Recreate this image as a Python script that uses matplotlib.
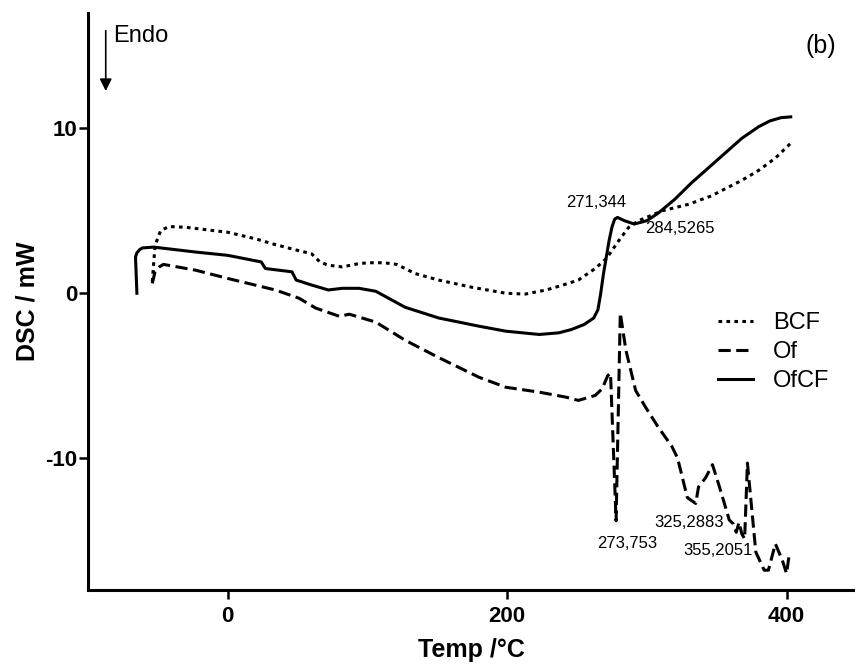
import matplotlib
matplotlib.use("Agg")
import matplotlib.pyplot as plt

plt.rcParams['font.family'] = ['Liberation Sans', 'DejaVu Sans']
plt.rcParams['axes.unicode_minus'] = False

# BCF (dotted)
bcf_x = [-54, -52, -48, -42, -30, 0, 20, 32, 50, 60, 66, 72, 82, 94, 101, 112, 121,
         134, 151, 175, 199, 213, 228, 240, 251, 263, 271, 280, 287, 294, 311, 330,
         346, 368, 380, 392, 403]
bcf_y = [0.7, 2.9, 3.8, 4.05, 4.0, 3.7, 3.3, 3.0, 2.6, 2.4, 1.9, 1.7, 1.6, 1.8, 1.85,
         1.85, 1.75, 1.2, 0.8, 0.36, 0.0, -0.05, 0.2, 0.5, 0.8, 1.5, 2.1, 3.2, 4.0, 4.4,
         5.0, 5.4, 5.9, 6.85, 7.45, 8.2, 9.1]

# Of (dashed)
of_x = [-54, -52, -49, -46, -23, 0, 34, 51, 63, 80, 87, 106, 127, 151, 180, 199, 223,
        242, 251, 263, 268, 272, 274, 278, 281, 285, 292, 299, 308, 318, 322, 329, 335,
        337, 342, 347, 352, 359, 362, 364, 366, 368, 370, 372, 375, 378, 384, 387, 392,
        397, 400, 402]
of_y = [0.6, 1.3, 1.6, 1.75, 1.4, 0.9, 0.2, -0.3, -0.9, -1.4, -1.27, -1.75, -2.85, -3.9,
        -5.1, -5.7, -6.0, -6.3, -6.5, -6.2, -5.8, -5.0, -4.85, -13.8, -1.2, -3.45, -5.9,
        -6.9, -8.1, -9.3, -10.0, -12.4, -12.75, -11.75, -11.2, -10.4, -11.75, -13.75,
        -14.0, -14.5, -13.9, -14.6, -14.9, -10.3, -13.0, -15.7, -16.8, -16.8, -15.2,
        -16.2, -17.0, -15.8]

# OfCF (solid)
ofcf_x = [-65, -66, -65, -63, -61, -53, -23, 0, 24, 27, 46, 49, 60, 72, 82, 94, 106,
          127, 151, 180, 199, 223, 237, 246, 255, 262, 265, 267, 269, 271, 273, 275,
          277, 279, 284, 291, 300, 308, 320, 332, 344, 356, 368, 380, 388, 396, 403]
ofcf_y = [0, 2.2, 2.45, 2.65, 2.75, 2.8, 2.5, 2.3, 1.9, 1.5, 1.3, 0.8, 0.5, 0.2, 0.3,
          0.3, 0.12, -0.85, -1.5, -2.0, -2.3, -2.5, -2.4, -2.2, -1.9, -1.5, -1.0, 0.0,
          1.2, 2.2, 3.2, 4.0, 4.5, 4.6, 4.4, 4.2, 4.4, 4.85, 5.7, 6.7, 7.6, 8.5, 9.4,
          10.1, 10.45, 10.65, 10.7]

peak_labels = ["271,344", "284,5265", "273,753", "325,2883", "355,2051"]
peak_pos = [(264, 5.5), (324, 3.9), (285.6, -15.15), (330, -13.9), (350.8, -15.6)]

fig = plt.figure(figsize=(8.55, 6.64), dpi=100)
ax = fig.add_axes([88 / 855, 74 / 664, 1 - 88 / 855, 577 / 664])

lw = 2.2
ax.plot(bcf_x, bcf_y, color='black', lw=lw, dashes=(1.2, 1.4), label='BCF')
ax.plot(of_x, of_y, color='black', lw=lw, dashes=(4, 1.8), label='Of')
ax.plot(ofcf_x, ofcf_y, color='black', lw=lw, label='OfCF')

for txt, (px, py) in zip(peak_labels, peak_pos):
    ax.text(px, py, txt, fontsize=12, ha='center', va='center')

ax.annotate('', xy=(-87.3, 12.1), xytext=(-87.3, 16.1),
            arrowprops=dict(arrowstyle='-|>', color='black', lw=1.2,
                            mutation_scale=18))
ax.text(-82, 15.6, 'Endo', fontsize=17, ha='left', va='center')
ax.text(424.5, 15.0, '(b)', fontsize=18, ha='center', va='center')

ax.set_xlim(-100, 449)
ax.set_ylim(-18, 17)
ax.set_xticks([0, 200, 400])
ax.set_yticks([-10, 0, 10])

ax.spines['right'].set_visible(False)
ax.spines['top'].set_visible(False)
ax.spines['left'].set_linewidth(2.2)
ax.spines['bottom'].set_linewidth(2.2)
ax.tick_params(direction='out', length=6.5, width=1.8, labelsize=16)
ax.tick_params(axis='y', pad=1)
ax.tick_params(axis='x', pad=5)
for lab in ax.get_xticklabels() + ax.get_yticklabels():
    lab.set_fontweight('bold')

ax.set_xlabel('Temp /°C', fontsize=18, fontweight='bold', labelpad=8)
ax.set_ylabel('DSC / mW', fontsize=18, fontweight='bold', labelpad=4)

ax.legend(loc='upper left', bbox_to_anchor=(718 / 855, 0.53),
          bbox_transform=fig.transFigure, frameon=False, fontsize=17,
          handlelength=1.48, handletextpad=0.85, labelspacing=0.3,
          borderpad=0, borderaxespad=0)

fig.savefig('out.png', dpi=100)
